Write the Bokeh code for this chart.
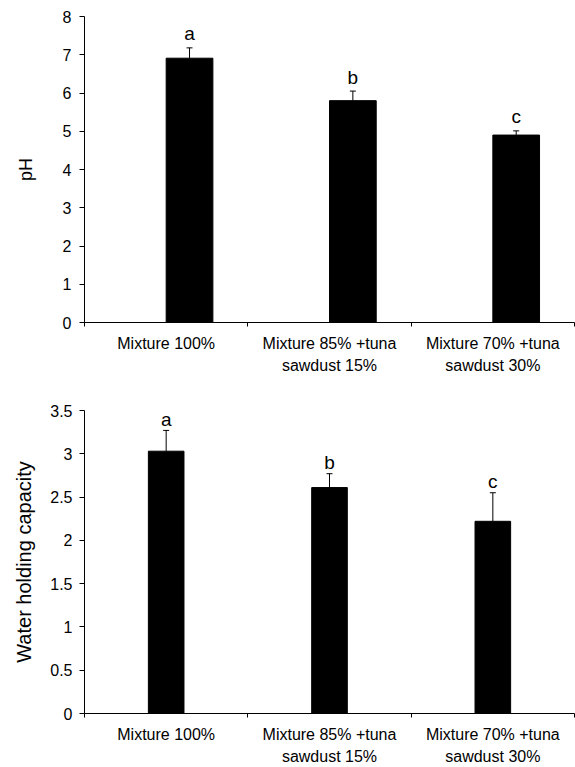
from bokeh.plotting import figure
from bokeh.models import Range1d, FixedTicker
from bokeh.layouts import column
from bokeh.core.properties import value
from bokeh.embed import file_html
from bokeh.resources import INLINE

# ---------------- data ----------------
categories = ["Mixture 100%", "Mixture 85% +tuna\nsawdust 15%", "Mixture 70% +tuna\nsawdust 30%"]

ph_mean = [6.91, 5.80, 4.90]
ph_err = [0.27, 0.25, 0.11]
ph_letters = ["a", "b", "c"]
ph_ticks = [0, 1, 2, 3, 4, 5, 6, 7, 8]
ph_tick_labels = ["0", "1", "2", "3", "4", "5", "6", "7", "8"]

whc_mean = [3.03, 2.61, 2.22]
whc_err = [0.24, 0.16, 0.33]
whc_letters = ["a", "b", "c"]
whc_ticks = [0, 0.5, 1, 1.5, 2, 2.5, 3, 3.5]
whc_tick_labels = ["0", "0.5", "1", "1.5", "2", "2.5", "3", "3.5"]

FONT = "Liberation Sans"


def make_chart(means, errs, letters, yticks, ylabels, ymax, ylabel, ylabel_size,
               width, height, mb_left, mb_top, mb_bottom, bar_w, bar_shift,
               letter_off, label_standoff, axis_label_standoff, tick_standoff):
    p = figure(width=width, height=height, output_backend="svg", toolbar_location=None,
               x_range=Range1d(0, len(categories)), y_range=Range1d(0, ymax),
               min_border_left=mb_left, min_border_right=1, min_border_top=mb_top,
               min_border_bottom=mb_bottom)
    p.outline_line_color = None
    p.xgrid.visible = False
    p.ygrid.visible = False
    p.background_fill_color = "white"
    p.border_fill_color = "white"

    xs = [i + 0.5 + bar_shift for i in range(len(categories))]
    tops = [m + e for m, e in zip(means, errs)]
    p.vbar(x=xs, top=means, bottom=0, width=bar_w, fill_color="black", line_color="black")
    p.segment(x0=xs, y0=means, x1=xs, y1=tops, line_color="black", line_width=1)
    p.scatter(x=xs, y=tops, marker="dash", size=6, line_color="black", line_width=1)
    p.text(x=xs, y=tops, text=letters, text_align="center", text_baseline="alphabetic",
           y_offset=-letter_off, text_font=value(FONT), text_font_size="19px",
           text_color="black")

    # x axis: labels at category centres, ticks at category boundaries
    xa = p.xaxis[0]
    xa.ticker = FixedTicker(ticks=[i + 0.5 for i in range(len(categories))],
                            minor_ticks=list(range(len(categories) + 1)))
    xa.major_label_overrides = {i + 0.5: c for i, c in enumerate(categories)}
    xa.major_tick_out = 0
    xa.major_tick_in = 0
    xa.minor_tick_out = 4
    xa.minor_tick_in = 0
    xa.minor_tick_line_color = "black"
    xa.axis_line_color = "black"
    xa.major_label_text_font = FONT
    xa.major_label_text_font_size = "16px"
    xa.major_label_text_color = "black"
    xa.major_label_text_line_height = 1.3
    xa.major_label_standoff = label_standoff

    ya = p.yaxis[0]
    ya.ticker = FixedTicker(ticks=yticks)
    ya.major_label_overrides = {t: l for t, l in zip(yticks, ylabels)}
    ya.major_tick_out = 5
    ya.major_tick_in = 0
    ya.minor_tick_out = 0
    ya.minor_tick_in = 0
    ya.axis_line_color = "black"
    ya.major_tick_line_color = "black"
    ya.major_label_text_font = FONT
    ya.major_label_text_font_size = "16px"
    ya.major_label_text_color = "black"
    ya.major_label_standoff = tick_standoff
    ya.axis_label = ylabel
    ya.axis_label_text_font = FONT
    ya.axis_label_text_font_size = ylabel_size
    ya.axis_label_text_font_style = "normal"
    ya.axis_label_text_color = "black"
    ya.axis_label_standoff = axis_label_standoff
    return p


p1 = make_chart(ph_mean, ph_err, ph_letters, ph_ticks, ph_tick_labels, 8, "pH", "18px",
                width=575, height=382, mb_left=71, mb_top=16, mb_bottom=60,
                bar_w=0.286, bar_shift=0.143, letter_off=14, label_standoff=8,
                axis_label_standoff=24, tick_standoff=8)
p2 = make_chart(whc_mean, whc_err, whc_letters, whc_ticks, whc_tick_labels, 3.5,
                "Water holding capacity", "20px",
                width=575, height=385, mb_left=84, mb_top=28, mb_bottom=53,
                bar_w=0.218, bar_shift=0.0, letter_off=11, label_standoff=8,
                axis_label_standoff=12, tick_standoff=7)

layout = column(p1, p2, spacing=0)
open("out.html", "w").write(file_html(layout, INLINE))
